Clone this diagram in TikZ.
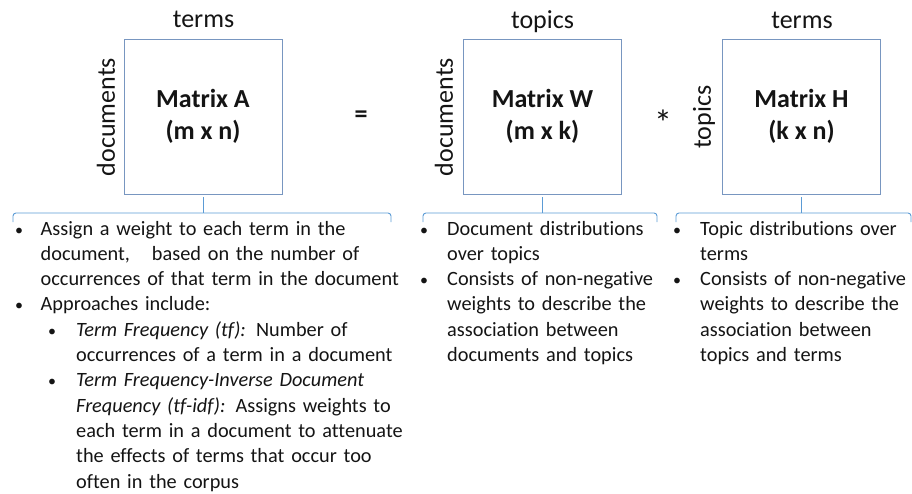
\documentclass[tikz,border=0pt]{standalone}
\usepackage{fontspec}
\setmainfont{Carlito}[Ligatures=NoCommon]
\definecolor{boxline}{RGB}{120,150,192}
\definecolor{braceline}{RGB}{91,155,213}
\definecolor{ink}{RGB}{20,20,20}
\begin{document}
\begin{tikzpicture}[x=1pt,y=-1pt,
  every node/.style={text=ink},
  matbox/.style={draw=boxline,line width=0.8pt,minimum width=158pt,minimum height=155pt,
    inner sep=0pt,align=center,font=\bfseries\fontsize{26}{32}\selectfont},
  axislabel/.style={inner sep=0pt,font=\fontsize{26}{30}\selectfont},
  opsym/.style={inner sep=0pt,font=\bfseries\fontsize{26}{30}\selectfont},
  brace/.style={draw=braceline,line width=0.9pt,rounded corners=3pt},
  bul/.style={inner sep=0pt,anchor=base,font=\fontsize{16}{20}\selectfont},
  body/.style={inner sep=0pt,anchor=base west,align=left,text width=400pt,
    font=\fontsize{20.3}{25.3}\selectfont}]
\useasboundingbox (0,0) rectangle (912,493);

% matrices
\node[matbox] (A) at (203,116.5) {Matrix A\\(m x n)};
\node[matbox] (W) at (542.5,116.5) {Matrix W\\(m x k)};
\node[matbox] (H) at (801.5,116.5) {Matrix H\\(k x n)};

% axis labels
\node[axislabel,anchor=base] (Acol) at (203.5,27) {terms};
\node[axislabel,rotate=90] (Arow) at (106,117) {documents};
\node[axislabel,anchor=base] (Wcol) at (542.5,28) {topics};
\node[axislabel,rotate=90] (Wrow) at (444,117) {documents};
\node[axislabel,anchor=base] (Hcol) at (802,28) {terms};
\node[axislabel,rotate=90] (Hrow) at (704,117) {topics};

% operators
\node[opsym] (eq) at (361,117) {=};
\node[inner sep=0pt,font=\fontsize{36}{40}\selectfont] (times) at (663,123) {*};

% brackets under each matrix
\coordinate (Al) at (13,222);  \coordinate (Ar) at (391,222);
\coordinate (Wl) at (423,222); \coordinate (Wr) at (657,222);
\coordinate (Hl) at (676,222); \coordinate (Hr) at (911,222);
\draw[brace] (Al) -- ++(0,-9) -| (Ar);
\draw[brace] (Wl) -- ++(0,-9) -| (Wr);
\draw[brace] (Hl) -- ++(0,-9) -| (Hr);
\draw[brace] ([yshift=-3pt]A.south) -- ++(0,16);
\draw[brace] ([yshift=-3pt]W.south) -- ++(0,16);
\draw[brace] ([yshift=-3pt]H.south) -- ++(0,16);

% notes on matrix A
\node[bul] (a1b) at (19,235) {•};
\node[body] (a1) at (40.5,235) {Assign a weight to each term in the\\
  document,\hspace{0.75em} based on the number of\\
  occurrences of that term in the document};
\node[bul] (a2b) at (19,310.9) {•};
\node[body] (a2) at (40.5,310.9) {Approaches include:};
\node[bul] (a3b) at (52,336.2) {•};
\node[body] (a3) at (76,336.2) {\textit{Term Frequency (tf):} Number of\\
  occurrences of a term in a document};
\node[bul] (a4b) at (52,386.8) {•};
\node[body] (a4) at (76,386.8) {\textit{Term Frequency-Inverse Document}\\
  \textit{Frequency (tf-idf):} Assigns weights to\\
  each term in a document to attenuate\\
  the effects of terms that occur too\\
  often in the corpus};

% notes on matrix W
\node[bul] (w1b) at (424,235) {•};
\node[body] (w1) at (447,235) {Document distributions\\over topics};
\node[bul] (w2b) at (424,285.6) {•};
\node[body] (w2) at (447,285.6) {Consists of non-negative\\
  weights to describe the\\association between\\documents and topics};

% notes on matrix H
\node[bul] (h1b) at (677,235) {•};
\node[body] (h1) at (700,235) {Topic distributions over\\terms};
\node[bul] (h2b) at (677,285.6) {•};
\node[body] (h2) at (700,285.6) {Consists of non-negative\\
  weights to describe the\\association between\\topics and terms};
\end{tikzpicture}
\end{document}
